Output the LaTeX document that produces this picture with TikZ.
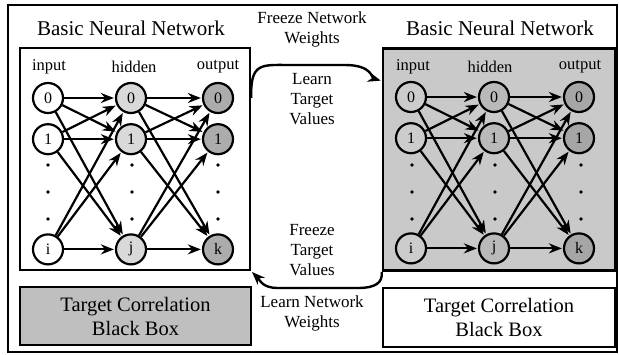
\documentclass[tikz,border=0pt]{standalone}
\usepackage{fontspec}
\setmainfont{Liberation Serif}
\usetikzlibrary{arrows.meta,positioning}

\begin{document}
\begin{tikzpicture}
    [x=1pt,y=-1pt,
    >={Stealth[length=13pt,width=10pt]},
    net/.style={draw,line width=2.6pt,inner sep=0pt},
    neuron/.style={circle,draw,line width=2.2pt,minimum size=30pt,inner sep=0pt,
      font=\fontsize{16}{16}\selectfont},
    inp/.style={neuron,fill=white},
    hid/.style={neuron,fill=gray!30},
    outp/.style={neuron,fill=gray!65},
    layer/.style={font=\fontsize{16.5}{17}\selectfont},
    title/.style={font=\fontsize{21}{21}\selectfont},
    boxtext/.style={align=center,font=\fontsize{20.5}{24}\selectfont},
    phase/.style={align=center,font=\fontsize{17}{20}\selectfont},
    pre/.style={<-,shorten <=1pt,line width=2.2pt},
    post/.style={->,shorten >=1pt,line width=2.4pt}]
    \useasboundingbox (0,0) rectangle (619,355);
    \draw[line width=2pt] (8,5) rectangle (617,352);

    % network that learns its weights
    \node[title] (ltitle) at (131,28) {Basic Neural Network};
    \node[net,minimum width=230pt,minimum height=222pt] (lnet) at (135,159) {};
    \node[layer] at (49,67) {input};
    \node[layer] at (134,67) {hidden};
    \node[layer] at (218,67) {output};
    \node[inp] (i0) at (48,98) {0};
    \node[inp] (i1) [below=9pt of i0] {1};
    \node[inp] (ii) [below=78pt of i1] {i};
    \node[hid] (h0) at (131,98) {0}
    edge [pre] (i0)
    edge [pre] (i1)
    edge [pre] (ii);
    \node[hid] (h1) [below=9pt of h0] {1}
    edge [pre] (i0)
    edge [pre] (i1)
    edge [pre] (ii);
    \node[hid] (hj) [below=78pt of h1] {j}
    edge [pre] (i0)
    edge [pre] (i1)
    edge [pre] (ii);
    \node[outp] (o0) at (218,98) {0}
    edge [pre] (h0)
    edge [pre] (h1)
    edge [pre] (hj);
    \node[outp] (o1) [below=9pt of o0] {1}
    edge [pre] (h0)
    edge [pre] (h1)
    edge [pre] (hj);
    \node[outp] (ok) [below=78pt of o1] {k}
    edge [pre] (h0)
    edge [pre] (h1)
    edge [pre] (hj);
    \fill (48,165) circle (1.8pt) (48,192) circle (1.8pt) (48,219) circle (1.8pt);
    \fill (132,165) circle (1.8pt) (132,192) circle (1.8pt) (132,219) circle (1.8pt);
    \fill (218,165) circle (1.8pt) (218,192) circle (1.8pt) (218,219) circle (1.8pt);
    \node[net,boxtext,fill=gray!50,minimum width=231pt,minimum height=58pt] (lbox)
      at (135.5,316) {Target Correlation\\Black Box};

    % network that learns the targets
    \node[title] (rtitle) at (500,28) {Basic Neural Network};
    \node[net,fill=gray!42,minimum width=232pt,minimum height=222pt] (rnet) at (499,159.5) {};
    \node[layer] at (413,67) {input};
    \node[layer] at (490,67) {hidden};
    \node[layer] at (580,67) {output};
    \node[inp,fill=gray!40] (ri0) at (411,97) {0};
    \node[inp,fill=gray!40] (ri1) [below=9pt of ri0] {1};
    \node[inp,fill=gray!40] (rii) [below=78pt of ri1] {i};
    \node[hid,fill=gray!55] (rh0) at (494,97) {0}
    edge [pre] (ri0)
    edge [pre] (ri1)
    edge [pre] (rii);
    \node[hid,fill=gray!55] (rh1) [below=9pt of rh0] {1}
    edge [pre] (ri0)
    edge [pre] (ri1)
    edge [pre] (rii);
    \node[hid,fill=gray!55] (rhj) [below=78pt of rh1] {j}
    edge [pre] (ri0)
    edge [pre] (ri1)
    edge [pre] (rii);
    \node[outp,fill=gray!70] (ro0) at (579,97) {0}
    edge [pre] (rh0)
    edge [pre] (rh1)
    edge [pre] (rhj);
    \node[outp,fill=gray!70] (ro1) [below=9pt of ro0] {1}
    edge [pre] (rh0)
    edge [pre] (rh1)
    edge [pre] (rhj);
    \node[outp,fill=gray!70] (rok) [below=78pt of ro1] {k}
    edge [pre] (rh0)
    edge [pre] (rh1)
    edge [pre] (rhj);
    \fill (412,165) circle (1.8pt) (412,192) circle (1.8pt) (412,219) circle (1.8pt);
    \fill (495,165) circle (1.8pt) (495,192) circle (1.8pt) (495,219) circle (1.8pt);
    \fill (581,165) circle (1.8pt) (581,192) circle (1.8pt) (581,219) circle (1.8pt);
    \node[net,boxtext,minimum width=232pt,minimum height=59pt] (rbox)
      at (499,317.5) {Target Correlation\\Black Box};

    % the two training phases
    \node[phase] (fnw) at (312,29) {Freeze Network\\Weights};
    \node[phase] (ltv) at (312,99) {Learn\\Target\\Values};
    \node[phase] (ftv) at (312,250) {Freeze\\Target\\Values};
    \node[phase] (lnw) at (312,313) {Learn Network\\Weights};
    \draw[post] (lnet.east |- i0) .. controls (250,62) and (262,65) .. (290,65)
      -- (345,65) .. controls (372,65) and (372,78) .. (rnet.west |- ri0.north);
    \draw[post] (rnet.south west) .. controls (383,283) and (375,288) .. (358,288)
      -- (278,288) .. controls (262,288) and (260,280) .. (lnet.south east);
\end{tikzpicture}
\end{document}
